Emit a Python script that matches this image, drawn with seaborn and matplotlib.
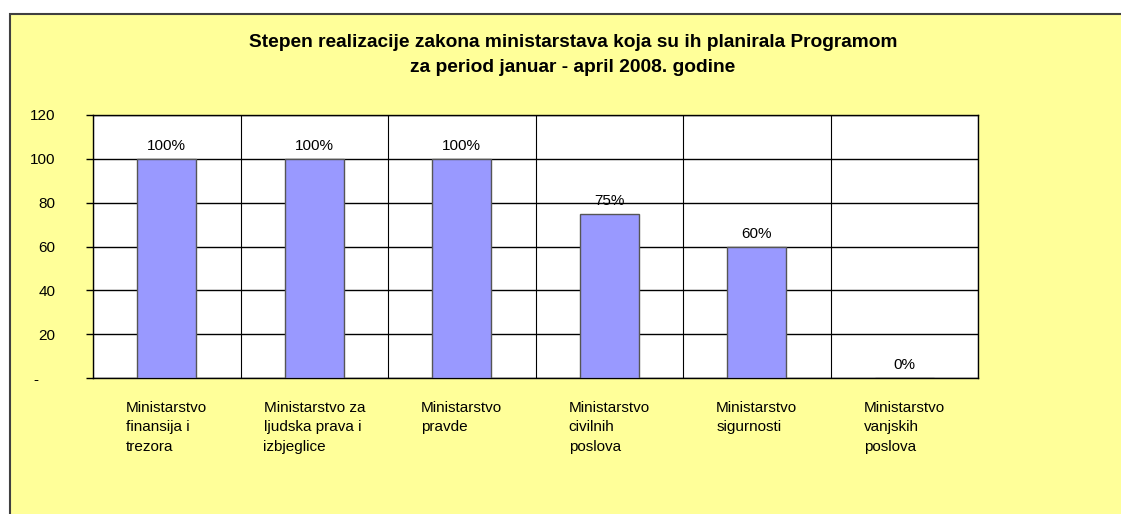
import numpy as np
import matplotlib
matplotlib.use("Agg")
import matplotlib.pyplot as plt
from matplotlib.patches import Rectangle
import seaborn as sns

categories = [
    "Ministarstvo\nfinansija i\ntrezora",
    "Ministarstvo za\nljudska prava i\nizbjeglice",
    "Ministarstvo\npravde",
    "Ministarstvo\ncivilnih\nposlova",
    "Ministarstvo\nsigurnosti",
    "Ministarstvo\nvanjskih\nposlova",
]
values = [100, 100, 100, 75, 60, 0]
yticks = [0, 20, 40, 60, 80, 100, 120]
ytick_labels = ["-    ", "20", "40", "60", "80", "100", "120"]
title = ("Stepen realizacije zakona ministarstava koja su ih planirala Programom\n"
         "za period januar - april 2008. godine")

sns.set_style("white")
plt.rcParams['font.family'] = ['Liberation Sans', 'DejaVu Sans']
plt.rcParams['text.color'] = 'black'
plt.rcParams['ytick.color'] = 'black'
plt.rcParams['xtick.color'] = 'black'

W, H = 1121, 514
fig = plt.figure(figsize=(W / 100, H / 100), dpi=100)
fig.patch.set_facecolor("white")

# yellow chart area with dark border
fig.patches.append(Rectangle((10 / W, -0.05), 1.1, 1 - 14 / H + 0.05,
                             transform=fig.transFigure, facecolor="#FFFF99",
                             edgecolor="#404040", linewidth=1.5, zorder=-5))

ax = fig.add_axes([93 / W, 1 - 378 / H, (978 - 93) / W, (378 - 115) / H])
ax.set_zorder(2)
ax.set_facecolor("white")

sns.barplot(x=categories, y=values, ax=ax, color="#9999FF", width=0.4,
            edgecolor="#555555", linewidth=1, saturation=1, zorder=3)

labels = [f"{v}%" for v in values]
ax.bar_label(ax.containers[0], labels=labels, padding=4, fontsize=11)

ax.set_ylim(0, 120)
ax.set_xlim(-0.5, len(values) - 0.5)
ax.set_yticks(yticks)
ax.set_yticklabels(ytick_labels, fontsize=11)
ax.yaxis.grid(True, color="black", linewidth=1)
ax.set_xticks(np.arange(len(values) + 1) - 0.5, minor=True)
ax.xaxis.grid(True, which="minor", color="black", linewidth=0.8)
ax.set_axisbelow(True)
ax.tick_params(axis="y", left=True, length=5, width=1, color="black", pad=22)
ax.tick_params(axis="x", which="both", bottom=False, pad=13)
for lbl in ax.get_xticklabels():
    lbl.set_fontsize(11)
    lbl.set_multialignment("left")
    lbl.set_linespacing(1.5)
for s in ax.spines.values():
    s.set_visible(True)
    s.set_color("black")
    s.set_linewidth(1)
ax.set_xlabel("")
ax.set_ylabel("")

fig.text(0.511, 1 - 55 / H, title, ha="center", va="center", fontsize=13.8,
         fontweight="bold", linespacing=1.6)

fig.savefig("out.png", dpi=100)
